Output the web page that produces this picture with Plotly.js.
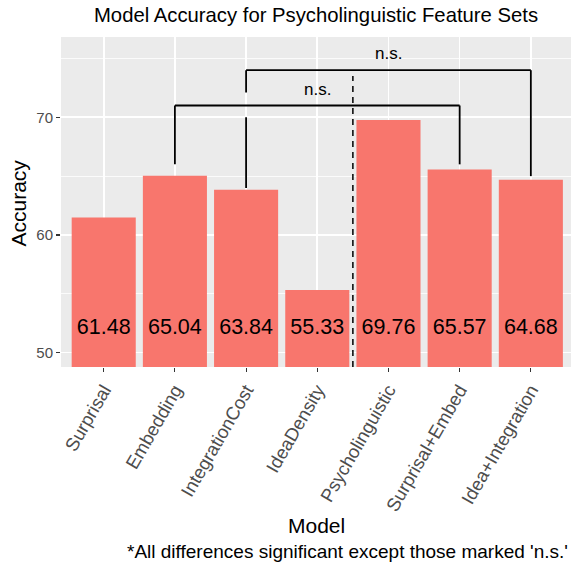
<!DOCTYPE html>
<html>
<head>
<meta charset="utf-8">
<script src="https://cdn.plot.ly/plotly-3.0.1.min.js"></script>
<style>html,body{margin:0;padding:0;background:#fff;}#chart{width:571px;height:562px;}</style>
</head>
<body>
<div id="chart"></div>
<script>
// ---- data ----
const categories = ["Surprisal", "Embedding", "IntegrationCost", "IdeaDensity", "Psycholinguistic", "Surprisal+Embed", "Idea+Integration"];
const accuracy = [61.48, 65.04, 63.84, 55.33, 69.76, 65.57, 64.68];
const labelY = 52;
// significance brackets (category indices, bar-top heights, bracket height)
const bracketLeft = [1, 2];
const bracketRight = [5, 6];
const bracketTop = [71, 74];
const bracketLegLeftEnd = [66, 64];
const bracketLegRightEnd = [66, 65];
const bracketLabel = ["n.s.", "n.s."];
const bracketLabelY = [72.4, 75.4];
// gap in the left leg of the upper bracket where it crosses the lower one
const gapTop = 72.1, gapBottom = 70.0;
const dividerX = 3.5, dividerTop = 73.5;

const yRange = [48.78, 76.82];
const xRange = [-0.6, 6.564];
const FONT = "Liberation Sans, Arial, sans-serif";

const idx = categories.map((_, i) => i);

const shapes = [];
const lineStyle = {color: "#000", width: 1.8};
for (let k = 0; k < bracketLeft.length; k++) {
  const xl = bracketLeft[k], xr = bracketRight[k], yt = bracketTop[k];
  shapes.push({type: "line", xref: "x", yref: "y", x0: xl, x1: xr, y0: yt, y1: yt, line: lineStyle});
  shapes.push({type: "line", xref: "x", yref: "y", x0: xr, x1: xr, y0: yt, y1: bracketLegRightEnd[k], line: lineStyle});
  if (k === 1) {
    shapes.push({type: "line", xref: "x", yref: "y", x0: xl, x1: xl, y0: yt, y1: gapTop, line: lineStyle});
    shapes.push({type: "line", xref: "x", yref: "y", x0: xl, x1: xl, y0: gapBottom, y1: bracketLegLeftEnd[k], line: lineStyle});
  } else {
    shapes.push({type: "line", xref: "x", yref: "y", x0: xl, x1: xl, y0: yt, y1: bracketLegLeftEnd[k], line: lineStyle});
  }
}
shapes.push({type: "line", xref: "x", yref: "y", x0: dividerX, x1: dividerX, y0: yRange[0], y1: dividerTop,
  line: {color: "#000", width: 1.5, dash: "6px,5px"}});

// pixel helpers for text placement (plot area: top 37, bottom 367, left 61, width 510)
const py = p => (367 - p) / 330;
const px = p => (p - 61) / 510;

const annotations = [];
for (let k = 0; k < bracketLabel.length; k++) {
  annotations.push({xref: "x", yref: "y", x: (bracketLeft[k] + bracketRight[k]) / 2, y: bracketLabelY[k],
    text: bracketLabel[k], showarrow: false, font: {family: FONT, size: 17, color: "#000"}, xanchor: "center", yanchor: "middle"});
}
annotations.push({xref: "paper", yref: "paper", x: 0.5, y: py(525), text: "Model", showarrow: false,
  font: {family: FONT, size: 21, color: "#000"}, xanchor: "center", yanchor: "middle"});
annotations.push({xref: "paper", yref: "paper", x: px(17.5), y: py(203), text: "Accuracy", showarrow: false, textangle: -90,
  font: {family: FONT, size: 21, color: "#000"}, xanchor: "center", yanchor: "middle"});
annotations.push({xref: "paper", yref: "paper", x: px(570), y: py(551), text: "*All differences significant except those marked 'n.s.'",
  showarrow: false, font: {family: FONT, size: 19, color: "#000"}, xanchor: "right", yanchor: "middle"});

const traces = [
  {type: "bar", x: idx, y: accuracy, width: 0.9, marker: {color: "#F8766D"}, hoverinfo: "skip", base: 0},
  {type: "scatter", mode: "text", x: idx, y: accuracy.map(() => labelY), text: accuracy.map(v => v.toFixed(2)),
    textposition: "middle center", textfont: {family: FONT, size: 21.5, color: "#000"}, hoverinfo: "skip"}
];

const layout = {
  width: 571, height: 562,
  margin: {l: 61, r: 0, t: 37, b: 195, pad: 0},
  paper_bgcolor: "#fff", plot_bgcolor: "#EBEBEB",
  showlegend: false,
  title: {text: "Model Accuracy for Psycholinguistic Feature Sets", font: {family: FONT, size: 20.3, color: "#000"},
    x: 0.5535, xref: "container", y: 1 - 15 / 562, yref: "container", xanchor: "center", yanchor: "middle"},
  xaxis: {range: xRange, tickmode: "array", tickvals: idx, ticktext: categories, tickangle: -60,
    showgrid: true, gridcolor: "#fff", gridwidth: 1.6, zeroline: false, showline: false,
    ticks: "outside", ticklen: 4, tickwidth: 1.1, tickcolor: "#333",
    tickfont: {family: FONT, size: 18.5, color: "#4D4D4D"}, fixedrange: true},
  yaxis: {range: yRange, tickmode: "array", tickvals: [50, 60, 70], ticktext: ["50", "60", "70"],
    showgrid: true, gridcolor: "#fff", gridwidth: 1.6, zeroline: false, showline: false,
    minor: {tickmode: "array", tickvals: [55, 65, 75], showgrid: true, gridcolor: "#fff", gridwidth: 0.8, ticks: ""},
    ticks: "outside", ticklen: 4, tickwidth: 1.1, tickcolor: "#333",
    tickfont: {family: FONT, size: 15, color: "#4D4D4D"}, fixedrange: true},
  shapes: shapes,
  annotations: annotations
};

Plotly.newPlot("chart", traces, layout, {displayModeBar: false, staticPlot: true});
</script>
</body>
</html>
